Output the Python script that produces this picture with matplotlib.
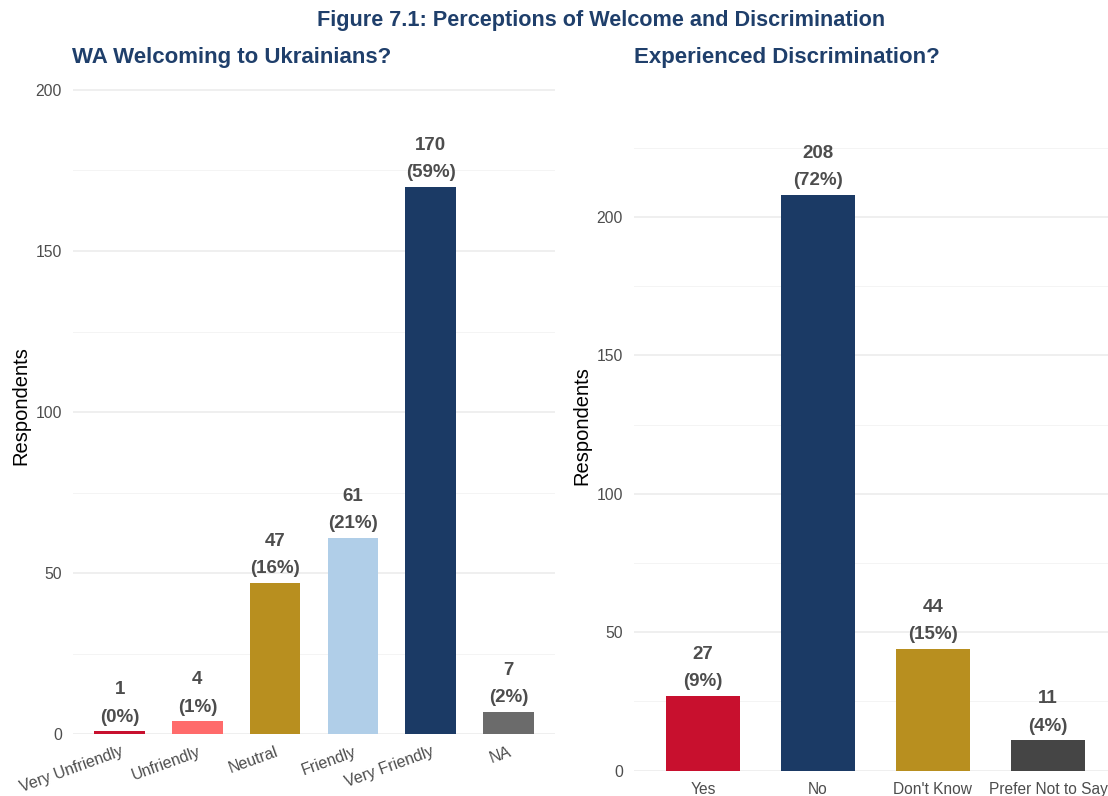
import matplotlib
matplotlib.use("Agg")
import matplotlib.pyplot as plt
from matplotlib.ticker import MultipleLocator

plt.rcParams['font.family'] = ['Liberation Sans', 'DejaVu Sans']

###########
# Data    #
welcome_cats = ["Very Unfriendly", "Unfriendly", "Neutral", "Friendly", "Very Friendly", "NA"]
welcome_vals = [1, 4, 47, 61, 170, 7]
welcome_cols = ["#C8102E", "#FF6B6B", "#B88F1F", "#B0CEE8", "#1B3A65", "#6B6B6B"]

discrim_cats = ["Yes", "No", "Don't Know", "Prefer Not to Say"]
discrim_vals = [27, 208, 44, 11]
discrim_cols = ["#C8102E", "#1B3A65", "#B88F1F", "#454545"]

navy = "#1F3F6B"
txt = "#4D4D4D"

fig = plt.figure(figsize=(11.08, 7.96), dpi=100)
ax1 = fig.add_axes([0.0659, 0.0775, 0.4350, 0.8258])
ax2 = fig.add_axes([0.5722, 0.0318, 0.4359, 0.8680])


def draw(ax, cats, vals, cols):
    total = sum(vals)
    x = range(len(cats))
    ax.bar(x, vals, width=0.65, color=cols, zorder=3)
    for i, v in enumerate(vals):
        pct = round(100 * v / total)
        ax.annotate("%d\n(%d%%)" % (v, pct), (i, v), xytext=(0, 4), textcoords="offset points",
                    ha="center", va="bottom", fontsize=13.5, fontweight="bold", color=txt,
                    linespacing=1.8, zorder=4)
    ax.set_xlim(-0.6, len(cats) - 0.4)
    ax.set_ylim(0, max(vals) * 1.2)
    ax.yaxis.set_major_locator(MultipleLocator(50))
    ax.yaxis.set_minor_locator(MultipleLocator(25))
    ax.grid(axis="y", which="major", color="#EBEBEB", lw=1.1, zorder=0)
    ax.grid(axis="y", which="minor", color="#F2F2F2", lw=0.6, zorder=0)
    ax.set_xticks(list(x))
    ax.set_xticklabels(cats)
    for s in ax.spines.values():
        s.set_visible(False)
    ax.tick_params(axis="both", which="both", length=0, labelsize=11.3, labelcolor=txt)
    ax.tick_params(axis="y", pad=8)
    ax.set_ylabel("Respondents", fontsize=14.5, color="black")


draw(ax1, welcome_cats, welcome_vals, welcome_cols)
draw(ax2, discrim_cats, discrim_vals, discrim_cols)

for lab in ax1.get_xticklabels():
    lab.set_rotation(20)
    lab.set_ha("right")
    lab.set_rotation_mode("anchor")
ax1.tick_params(axis="x", pad=7, labelsize=11.5)
ax2.tick_params(axis="x", pad=8, labelsize=11.2)

ax1.yaxis.set_label_coords(-0.088, 0.5)
ax2.yaxis.set_label_coords(-0.088, 0.5)

############
# Titles   #
fig.text(0.5425, 0.974, "Figure 7.1: Perceptions of Welcome and Discrimination",
         ha="center", va="center", fontsize=15.6, fontweight="bold", color=navy)
fig.text(0.065, 0.928, "WA Welcoming to Ukrainians?", ha="left", va="center",
         fontsize=16, fontweight="bold", color=navy)
fig.text(0.572, 0.928, "Experienced Discrimination?", ha="left", va="center",
         fontsize=16, fontweight="bold", color=navy)

fig.savefig("out.png", dpi=100)
